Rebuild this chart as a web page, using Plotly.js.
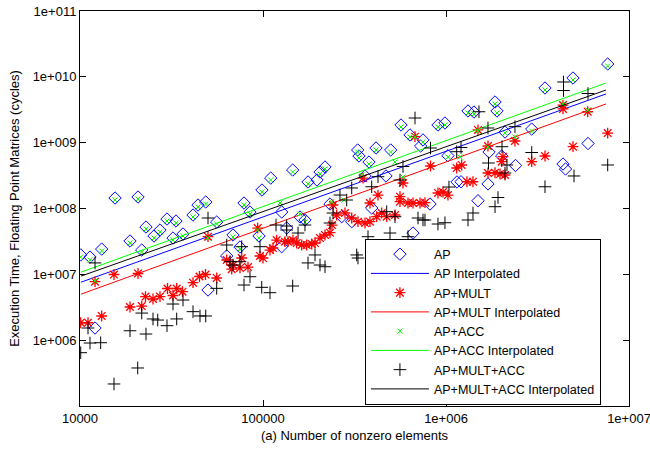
<!DOCTYPE html>
<html><head><meta charset="utf-8">
<script src="https://cdn.plot.ly/plotly-3.0.1.min.js"></script>
<style>html,body{margin:0;padding:0;background:#fff}#chart{width:650px;height:451px}</style>
</head><body><div id="chart"></div>
<script>
// AP
const apX = [10090, 11340, 12080, 13140, 15540, 20750, 18760, 21740, 22940, 25370,
  27360, 29880, 33460, 32220, 36550, 41450, 44140, 48640, 55850, 50060,
  63340, 68550, 74860, 78730, 84900, 95100, 98700, 110200, 145300, 176200,
  197300, 204900, 218200, 329200, 334600, 414500, 498600, 379500, 567700, 635800,
  748600, 904000, 987000, 360900, 470000, 126500, 159300, 169600, 126500, 134700,
  232300, 269200, 305300, 392600, 817800, 660300, 1319000, 1422000, 1853000, 1900000,
  3475000, 4943000, 7648000, 1025000, 1718000, 2101000, 2940000, 2398000, 2016000, 1148000,
  1208000, 1696000, 1496000, 4359000, 4498000, 5970000, 727000];
const apY = [1.97e7, 1.83e7, 1.53e6, 2.42e7, 1.443e8, 1.494e8, 3.21e7, 2.34e7, 5.23e7, 3.82e7,
  4.71e7, 6.92e7, 6.46e7, 3.56e7, 4.10e7, 7.96e7, 1.13e8, 1.255e8, 6.23e7, 5.78e6,
  1.90e7, 3.96e7, 2.60e7, 1.212e8, 8.84e7, 3.82e7, 1.91e8, 2.90e8, 3.84e8, 2.53e8,
  2.71e8, 3.58e8, 4.27e8, 7.74e8, 6.27e8, 8.30e8, 7.74e8, 5.08e8, 1.855e9, 1.31e9,
  1.10e9, 1.855e9, 1.99e9, 3.12e8, 3.12e8, 8.84e7, 7.43e7, 6.69e7, 2.63e7, 5.05e7,
  1.17e8, 7.51e7, 6.30e7, 1.017e8, 1.17e8, 4.24e7, 3.03e9, 2.92e9, 4.15e9, 3.03e9,
  6.77e9, 9.60e9, 1.566e10, 6.34e8, 7.21e8, 1.45e9, 1.61e9, 4.50e8, 6.27e8, 2.53e8,
  2.55e8, 2.36e8, 1.313e8, 4.74e8, 3.98e8, 9.71e8, 8.90e8];

// AP+MULT
const multX = [10090, 11060, 13140, 12080, 15340, 20750, 18760, 21740, 22800, 25060,
  27360, 30070, 33760, 32220, 36320, 41450, 44980, 48520, 55850, 50060,
  63340, 67450, 68550, 74860, 76480, 82790, 96300, 100000, 109200, 113400,
  118800, 131900, 136900, 145800, 152800, 162700, 173300, 184600, 192400, 204900,
  218200, 232300, 238200, 241300, 252700, 280600, 305300, 330400, 360900, 384300,
  418100, 445300, 474200, 526500, 384300, 425000, 560600, 560600, 582100, 620000,
  660300, 721000, 767700, 904000, 963000, 1025000, 351900, 677000, 822900, 1144000,
  1218000, 1302000, 1404000, 1496000, 1696000, 1696000, 1853000, 1973000, 2101000, 2016000,
  2049000, 2382000, 2940000, 3475000, 4359000, 4359000, 4943000, 5947000, 7648000, 93550];
const multY = [1.84e6, 1.84e6, 2.33e6, 7.73e6, 9.94e6, 1.03e7, 3.19e6, 3.30e6, 4.60e6, 4.22e6,
  4.60e6, 6.09e6, 6.09e6, 4.77e6, 5.45e6, 7.46e6, 9.27e6, 9.94e6, 8.80e6, 3.73e7,
  1.65e7, 1.20e7, 1.385e7, 1.25e7, 1.77e7, 1.29e7, 1.90e7, 1.77e7, 2.34e7, 2.51e7,
  3.32e7, 3.13e7, 3.13e7, 3.32e7, 2.99e7, 2.79e7, 2.79e7, 2.89e7, 2.99e7, 3.56e7,
  3.96e7, 4.29e7, 5.61e7, 1.13e8, 7.96e7, 8.54e7, 7.17e7, 6.30e7, 6.02e7, 6.30e7,
  7.51e7, 8.54e7, 7.51e7, 7.96e7, 1.212e8, 1.60e8, 1.51e8, 1.27e8, 2.44e8, 1.212e8,
  1.212e8, 1.212e8, 1.224e8, 1.72e8, 1.78e8, 1.60e8, 2.90e8, 1.232e9, 4.42e8, 4.12e8,
  4.58e8, 2.55e8, 2.55e8, 1.56e9, 8.90e8, 3.46e8, 3.49e8, 3.34e8, 3.23e8, 5.14e8,
  6.12e8, 1.06e9, 5.14e8, 6.27e8, 3.73e9, 3.25e9, 8.68e8, 2.95e9, 1.40e9, 5.05e7];

// AP+ACC
const accX = [10090, 11340, 12080, 13140, 15540, 20750, 18760, 21740, 22940, 25370,
  27360, 29880, 33460, 32220, 36550, 41450, 44140, 48640, 55850, 50060,
  68550, 78730, 84900, 95100, 98700, 110200, 145300, 176200, 204900, 218200,
  329200, 334600, 414500, 498600, 379500, 526500, 567700, 635800, 677000, 748600,
  904000, 987000, 123900, 159300, 237300, 277100, 346200, 582100, 1319000, 1422000,
  1853000, 1900000, 3475000, 4943000, 7648000, 1025000, 1193000, 1496000, 1696000, 2101000,
  2940000, 2382000, 4359000, 5970000, 74860, 93550, 169600];
const accY = [1.83e7, 1.65e7, 7.91e6, 2.26e7, 1.35e8, 1.394e8, 2.99e7, 2.18e7, 4.88e7, 3.56e7,
  4.39e7, 6.46e7, 6.02e7, 3.32e7, 3.82e7, 7.43e7, 1.053e8, 1.17e8, 5.81e7, 3.56e7,
  3.69e7, 1.13e8, 8.25e7, 3.56e7, 1.78e8, 2.71e8, 3.58e8, 2.36e8, 3.34e8, 3.98e8,
  7.21e8, 5.85e8, 7.74e8, 7.21e8, 4.74e8, 5.08e8, 1.73e9, 1.219e9, 1.219e9, 1.02e9,
  1.73e9, 1.855e9, 1.212e8, 8.25e7, 1.255e8, 1.346e8, 3.23e8, 3.01e8, 2.82e9, 2.73e9,
  3.87e9, 2.82e9, 6.31e9, 8.95e9, 1.46e10, 6.05e8, 6.05e8, 1.50e9, 8.59e8, 1.40e9,
  1.50e9, 1.219e9, 3.87e9, 3.13e9, 2.42e7, 4.71e7, 6.23e7];

// AP+MULT+ACC
const allX = [10090, 11060, 11340, 12970, 15340, 20670, 18760, 22940, 21740, 25060,
  26590, 29880, 33760, 32220, 36550, 41450, 45260, 48640, 55850, 78730,
  98400, 109200, 145300, 12080, 50060, 63340, 66030, 68550, 74860, 76480,
  84900, 96300, 117800, 134700, 134700, 155400, 169600, 192400, 176200, 204900,
  218200, 232300, 241300, 263400, 286700, 305300, 392600, 425000, 474200, 526500,
  494300, 374800, 325100, 330400, 703100, 767700, 904000, 620000, 560600, 582100,
  677000, 822900, 987000, 1319000, 1404000, 1853000, 1924000, 1038000, 1144000, 1208000,
  1514000, 1696000, 1707000, 2101000, 2154000, 2023000, 2382000, 2940000, 3475000, 4387000,
  4387000, 5006000, 5970000, 7648000, 748600];
const allY = [6.45e5, 1.53e6, 9.05e5, 9.15e5, 2.16e5, 3.78e5, 1.39e6, 1.24e6, 2.58e6, 2.10e6,
  2.02e6, 1.66e6, 2.10e6, 3.54e6, 4.07e6, 2.71e6, 2.33e6, 2.33e6, 6.13e6, 6.88e6,
  6.35e6, 5.26e6, 6.65e6, 1.49e7, 7.17e7, 2.79e7, 1.555e7, 1.385e7, 1.555e7, 2.63e7,
  9.20e6, 2.63e7, 5.61e7, 5.42e7, 4.71e7, 4.24e7, 5.61e7, 1.97e7, 1.49e7, 1.385e7,
  1.305e7, 6.02e7, 8.54e7, 1.60e8, 1.346e8, 2.05e8, 2.14e8, 3.04e8, 8.94e7, 7.51e7,
  4.24e7, 3.73e7, 1.97e7, 1.77e7, 7.17e7, 6.69e7, 5.81e7, 3.73e7, 2.71e8, 4.34e8,
  2.37e9, 8.30e8, 6.08e7, 6.69e7, 8.54e7, 1.065e8, 1.468e8, 2.12e8, 7.29e8, 8.45e8,
  2.95e9, 1.67e9, 4.91e8, 3.46e8, 4.58e8, 8.68e8, 1.75e9, 7.09e8, 2.14e8, 8.35e9,
  6.20e9, 3.12e8, 5.58e9, 4.58e8, 6.69e7];

// Interpolated (fitted) lines
const fitX = [10130, 100000, 1000000, 7490000];
const apFitY = [7.6e6, 7.48e7, 7.39e8, 5.5e9];
const multFitY = [5.0e6, 4.99e7, 5.1e8, 3.87e9];
const accFitY = [1.08e7, 1.07e8, 1.07e9, 8.06e9];
const allFitY = [9.4e6, 9.0e7, 8.68e8, 6.3e9];

const xTickVals = [1e4, 1e5, 1e6, 1e7];
const xTickText = ['10000', '100000', '1e+006', '1e+007'];
const yTickVals = [1e6, 1e7, 1e8, 1e9, 1e10, 1e11];
const yTickText = ['1e+006', '1e+007', '1e+008', '1e+009', '1e+010', '1e+011'];

const seriesNames = ['AP', 'AP Interpolated', 'AP+MULT', 'AP+MULT Interpolated',
  'AP+ACC', 'AP+ACC Interpolated', 'AP+MULT+ACC', 'AP+MULT+ACC Interpolated'];
const xTitle = '(a) Number of nonzero elements';
const yTitle = 'Execution Time, Floating Point Matrices (cycles)';

const BLUE = '#0000ff', RED = '#ff0000', GREEN = '#00ff00', BLACK = '#000000';

function pts(name, x, y, symbol, size, color, lw) {
  return {type: 'scatter', mode: 'markers', name: name, x: x, y: y,
    marker: {symbol: symbol, size: size, color: color, line: {color: color, width: lw}}};
}
function fit(name, y, color) {
  return {type: 'scatter', mode: 'lines', name: name, x: fitX, y: y,
    line: {color: color, width: 1}};
}

const data = [
  pts(seriesNames[0], apX, apY, 'diamond-open', 9.5, BLUE, 1),
  fit(seriesNames[1], apFitY, BLUE),
  pts(seriesNames[2], multX, multY, 'asterisk-open', 9, RED, 1.3),
  fit(seriesNames[3], multFitY, RED),
  pts(seriesNames[4], accX, accY, 'x-thin-open', 5, GREEN, 1),
  fit(seriesNames[5], accFitY, GREEN),
  pts(seriesNames[6], allX, allY, 'cross-thin-open', 9, BLACK, 1),
  fit(seriesNames[7], allFitY, BLACK)
];

const FONT = 'Arial, "Liberation Sans", Helvetica, sans-serif';
const axisCommon = {type: 'log', ticks: 'inside', ticklen: 6, tickcolor: '#000', tickwidth: 1,
  showline: true, linecolor: '#000', linewidth: 1, mirror: 'ticks', showgrid: false,
  zeroline: false, ticklabeloverflow: 'allow', tickfont: {family: FONT, size: 13, color: '#000'}};

const layout = {
  width: 650, height: 451,
  margin: {l: 80, r: 21, t: 11, b: 45},
  paper_bgcolor: '#fff', plot_bgcolor: '#fff',
  font: {family: FONT, size: 13, color: '#000'},
  showlegend: true,
  legend: {x: 0.519, y: 0.424, xanchor: 'left', yanchor: 'top', bgcolor: '#fff',
    bordercolor: '#000', borderwidth: 1, font: {family: FONT, size: 12.5, color: '#000'},
    itemwidth: 58, tracegroupgap: 0, traceorder: 'normal'},
  xaxis: Object.assign({}, axisCommon, {range: [4, 7], tickmode: 'array', tickvals: xTickVals,
    ticktext: xTickText, title: {text: xTitle, standoff: 6, font: {family: FONT, size: 13, color: '#000'}}}),
  yaxis: Object.assign({}, axisCommon, {range: [5, 11], tickmode: 'array', tickvals: yTickVals,
    ticktext: yTickText, title: {text: yTitle, standoff: 10, font: {family: FONT, size: 13, color: '#000'}}})
};

Plotly.newPlot('chart', data, layout, {displayModeBar: false, staticPlot: true});
</script></body></html>
